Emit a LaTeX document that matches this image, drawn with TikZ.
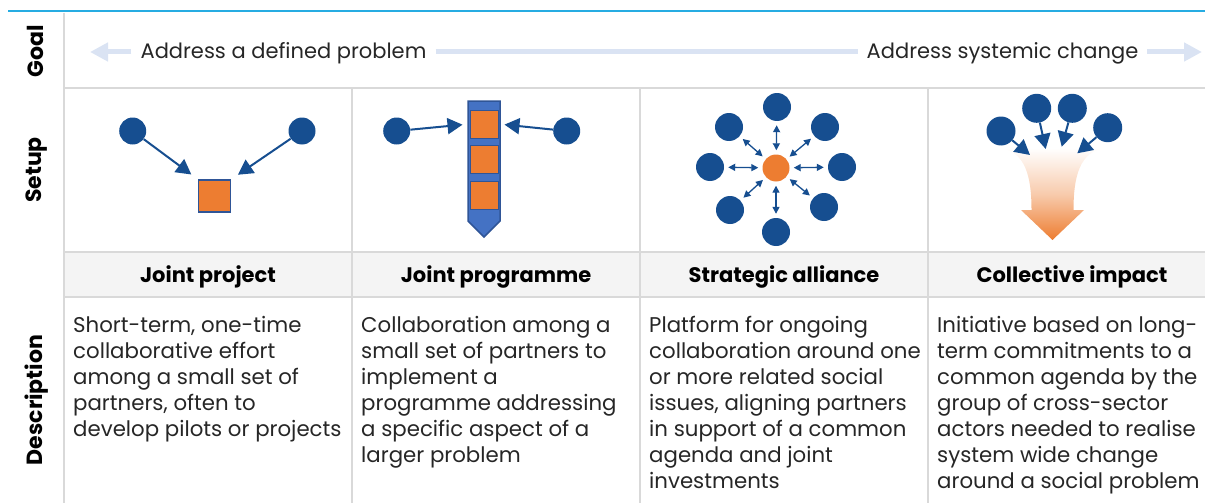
\documentclass[tikz,border=0pt]{standalone}
\usepackage{fontspec}
\setmainfont{Poppins}
\usetikzlibrary{arrows.meta}
\definecolor{navy}{RGB}{22,78,144}
\definecolor{orng}{RGB}{237,125,49}
\definecolor{barblue}{RGB}{68,114,196}
\definecolor{barline}{RGB}{47,85,151}
\definecolor{gridgrey}{RGB}{217,217,217}
\definecolor{headgrey}{RGB}{244,244,244}
\definecolor{goalblue}{RGB}{218,227,243}
\definecolor{topcyan}{RGB}{38,172,226}
\definecolor{txt}{RGB}{38,38,38}
\begin{document}
\begin{tikzpicture}[x=1pt,y=-1pt,
    dot/.style={circle,fill=navy,inner sep=0,minimum size=#1},
    dot/.default=27pt,
    box/.style={rectangle,fill=orng,draw=barline,line width=1pt,inner sep=0,minimum size=#1},
    box/.default=28pt,
    navyarr/.style={navy,line width=2pt,-{Triangle[length=15pt,width=16pt]}},
    hubarr/.style={navy,line width=1.3pt,{Triangle[length=7pt,width=7pt]}-{Triangle[length=7pt,width=7pt]},shorten <=4pt,shorten >=4pt},
    goalarr/.style={goalblue,line width=5pt,-{Triangle[length=18pt,width=18pt]}},
    goaltxt/.style={inner sep=9pt,text=txt,font=\fontsize{21}{25}\selectfont},
    side/.style={rotate=90,inner sep=0,font=\fontsize{22}{26}\selectfont\bfseries},
    head/.style={inner sep=0,text=black,font=\fontsize{21}{25}\selectfont\bfseries},
    desc/.style={anchor=north west,align=left,inner sep=0,text=txt,font=\fontsize{21.3}{26}\selectfont}]
    \useasboundingbox (0,0) rectangle (1205,503);
    \fill[headgrey] (64,252) rectangle (1205,297);
    \draw[topcyan,line width=2pt] (8,11) -- (1205,11);
    \draw[gridgrey,line width=1.2pt] (64,13) -- (64,503);
    \foreach \y in {88,252,297}
        \draw[gridgrey,line width=1.2pt] (64,\y) -- (1205,\y);
    \foreach \x in {352,640,928}
        \draw[gridgrey,line width=1.2pt] (\x,88) -- (\x,503);

    \node[side] (lgoal) at (35,51) {Goal};
    \node[side] (lsetup) at (37,170) {Setup};
    \node[side] (ldesc) at (37,400) {Description};

    \node[goaltxt] (gl) at (283.5,53.5) {Address a defined problem};
    \node[goaltxt] (gr) at (1002.5,53.5) {Address systemic change};
    \coordinate (gs) at (90,52);
    \coordinate (ge) at (1202,52);
    \draw[goalarr] (gl.west |- gs) -- (gs);
    \draw[goalblue,line width=5pt] (gl.east |- gs) -- (gr.west |- gs);
    \draw[goalarr] (gr.east |- ge) -- (ge);

    \node[dot] (c1a) at (132.7,131) {};
    \node[dot] (c1b) at (302,131) {};
    \node[box=32pt,line width=1.5pt] (sq1) at (214.5,196) {};
    \draw[navyarr,shorten >=8pt] (c1a) -- (sq1.north west);
    \draw[navyarr,shorten >=8pt] (c1b) -- (sq1.north east);

    \filldraw[fill=barblue,draw=barline,line width=1.5pt] (468,101) -- (500,101) -- (500,221) -- (484,237) -- (468,221) -- cycle;
    \node[box] (b1) at (484,124) {};
    \node[box] (b2) at (484,159) {};
    \node[box] (b3) at (484,195) {};
    \node[dot] (c2a) at (396.7,131) {};
    \node[dot] (c2b) at (566.7,131) {};
    \draw[navyarr,shorten >=7pt] (c2a) -- (b1.west);
    \draw[navyarr,shorten >=6pt] (c2b) -- (b1.east);

    \node[dot,fill=orng] (hub) at (776,168) {};
    \foreach \n/\x/\y in {t/777/107,tr/825/127,r/842/167,br/824/207,b/776/232,bl/730/210,l/710/167,tl/729/127} {
        \node[dot=28pt] (s\n) at (\x,\y) {};
        \draw[hubarr] (hub) -- (s\n);
    }

    \shade[top color=white,bottom color=orng,middle color=orng!40] (998,148) .. controls (1026,150) and (1031.5,178) .. (1031.5,210) -- (1021,210) -- (1052.5,240) -- (1084,210) -- (1073.5,210) .. controls (1073.5,178) and (1079,150) .. (1107,148) -- cycle;
    \foreach \n/\x/\y/\tx/\ty in {1/1001/131/1030/155,2/1036.7/108.3/1045.7/149,3/1072.3/108.3/1061.7/146.7,4/1107.7/127.7/1077.3/153.3} {
        \node[dot=29pt] (k\n) at (\x,\y) {};
        \coordinate (kt\n) at (\tx,\ty);
        \draw[navyarr] (k\n) -- (kt\n);
    }

    \node[head] (h1) at (208,277) {Joint project};
    \node[head] (h2) at (496,277) {Joint programme};
    \node[head] (h3) at (784,277) {Strategic alliance};
    \node[head] (h4) at (1072,277) {Collective impact};

    \node[desc] (d1) at (73,316) {Short-term, one-time\\collaborative effort\\among a small set of\\partners, often to\\develop pilots or projects};
    \node[desc] (d2) at (361,316) {Collaboration among a\\small set of partners to\\implement a\\programme addressing\\a specific aspect of a\\larger problem};
    \node[desc] (d3) at (649,316) {Platform for ongoing\\collaboration around one\\or more related social\\issues, aligning partners\\in support of a common\\agenda and joint\\investments};
    \node[desc] (d4) at (937,316) {Initiative based on long-\\term commitments to a\\common agenda by the\\group of cross-sector\\actors needed to realise\\system wide change\\around a social problem};
\end{tikzpicture}
\end{document}
